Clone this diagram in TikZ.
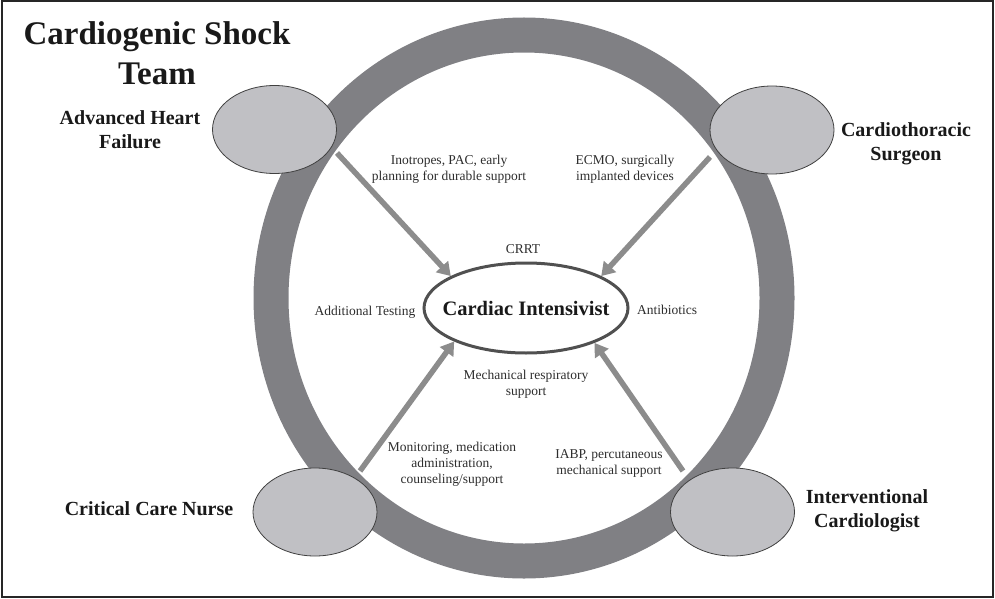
\documentclass[tikz,border=0pt]{standalone}
\usepackage{fontspec}
\setmainfont{Liberation Serif}
\usetikzlibrary{arrows.meta,shapes.geometric}
\definecolor{ringgray}{RGB}{128,128,132}
\definecolor{ellfill}{RGB}{192,192,196}
\definecolor{ellline}{RGB}{64,64,64}
\definecolor{arrgray}{RGB}{140,140,140}
\definecolor{cigray}{RGB}{80,80,80}
\definecolor{txt}{RGB}{25,25,25}
\definecolor{smalltxt}{RGB}{45,45,45}
\tikzset{
  member/.style={ellipse, draw=ellline, line width=0.8pt, fill=ellfill,
    minimum width=124pt, minimum height=88pt, inner sep=0pt},
  role/.style={font=\fontsize{20}{24}\selectfont\bfseries, text=txt, align=center, anchor=base, inner sep=0pt},
  task/.style={font=\fontsize{13.5}{16}\selectfont, text=smalltxt, align=center, anchor=base, inner sep=0pt},
  flow/.style={draw=arrgray, line width=5.5pt, -{Triangle[width=16pt,length=13pt]}},
}
\begin{document}
\begin{tikzpicture}[x=1pt,y=-1pt]
\useasboundingbox (0,0) rectangle (995,599);
\draw[line width=2pt, draw=black!85] (1.5,1.5) rectangle (993,597);
% ring
\draw[draw=ringgray, line width=35pt] (524,298) ellipse [x radius=253, y radius=263];
% members
\node[member] (ahf) at (274.5,129.5) {};
\node[member] (cts) at (772,130) {};
\node[member] (ccn) at (315,512) {};
\node[member] (ic)  at (732.5,512) {};
% centre
\node[ellipse, draw=cigray, line width=3pt, fill=white, minimum width=204pt, minimum height=90pt, inner sep=0pt,
  label={[font=\fontsize{20.5}{24}\selectfont\bfseries, text=txt, inner sep=0pt]center:Cardiac Intensivist}] (ci) at (526,308) {};
% connectors
\coordinate (s1) at (337,153);
\coordinate (s2) at (710,157);
\coordinate (s3) at (360,471);
\coordinate (s4) at (683,471);
\draw[flow] (s1) -- (ci.157);
\draw[flow] (s2) -- (ci.23);
\draw[flow] (s3) -- (ci.205.6);
\draw[flow] (s4) -- (ci.333.4);
% title
\node[font=\fontsize{33}{40}\selectfont\bfseries, text=txt, align=center, anchor=base, inner sep=0pt] (title) at (157,85) {Cardiogenic Shock\\Team};
% roles
\node[role] (lahf) at (130,148) {Advanced Heart\\Failure};
\node[role] (lcts) at (906,160) {Cardiothoracic\\Surgeon};
\node[role] (lccn) at (149,515) {Critical Care Nurse};
\node[role] (lic)  at (867,527) {Interventional\\Cardiologist};
% tasks
\node[task] (t1) at (449,180) {Inotropes, PAC, early\\planning for durable support};
\node[task] (t2) at (625,180) {ECMO, surgically\\implanted devices};
\node[task] (t3) at (523,253) {CRRT};
\node[task] (t4) at (365,315) {Additional Testing};
\node[task] (t5) at (667,314) {Antibiotics};
\node[task] (t6) at (526,395) {Mechanical respiratory\\support};
\node[task] (t7) at (452,483) {Monitoring, medication\\administration,\\counseling/support};
\node[task] (t8) at (609,474) {IABP, percutaneous\\mechanical support};
\end{tikzpicture}
\end{document}
